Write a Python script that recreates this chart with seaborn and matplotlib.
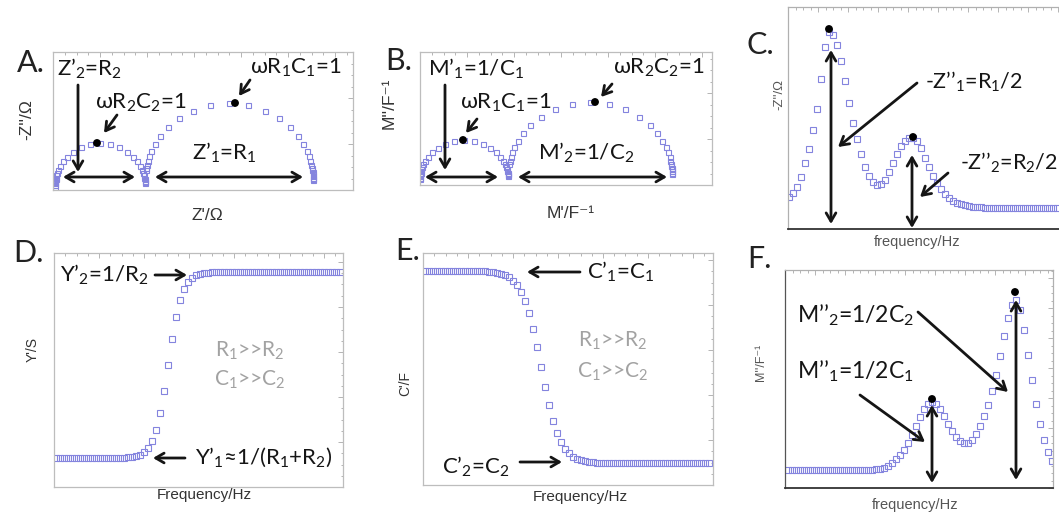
import matplotlib
matplotlib.use("Agg")
import matplotlib.pyplot as plt
from matplotlib.ticker import MultipleLocator, AutoMinorLocator
import seaborn as sns

sns.set_style("white")
plt.rcParams["font.family"] = ["Lato", "DejaVu Sans"]
plt.rcParams["mathtext.fontset"] = "custom"
plt.rcParams["mathtext.rm"] = "Lato"
plt.rcParams["mathtext.it"] = "Lato:italic"
plt.rcParams["mathtext.bf"] = "Lato:bold"

# ---------------- data (arbitrary units, no tick labels are shown) ----------------
# A: impedance complex plane, Z' vs -Z''
z_small_re = [91.9, 91.8, 91.6, 91.5, 91.1, 90.6, 89.8, 88.6, 86.7, 83.9, 79.7, 73.9, 66.4, 57.1, 47.0,
              36.9, 27.6, 20.1, 14.3, 10.1, 7.3, 5.4, 4.2, 3.4, 2.9, 2.5, 2.4, 2.2, 2.1, 1.9, 1.8]
z_small_im = [7.4, 8.3, 9.4, 10.7, 12.5, 14.7, 17.3, 20.5, 24.3, 28.6, 33.5, 38.5, 42.8, 45.9, 47.0,
              45.9, 42.8, 38.5, 33.5, 28.6, 24.3, 20.5, 17.3, 14.7, 12.5, 10.7, 9.4, 8.3, 7.4, 5.0, 3.5]
z_big_re = [260.0, 260.0, 260.0, 259.9, 259.7, 259.6, 259.3, 259.0, 258.3, 257.4, 255.9, 253.6, 250.1,
            244.9, 237.1, 226.2, 212.2, 194.9, 176.0, 157.1, 139.8, 125.8, 114.9, 107.1, 101.9, 98.4,
            96.1, 94.6, 93.7, 93.0, 92.7]
z_big_im = [9.6, 10.8, 12.4, 13.9, 16.0, 17.6, 19.6, 22.0, 25.2, 29.2, 33.8, 39.5, 46.3, 54.0, 62.9,
            71.8, 79.5, 85.0, 87.0, 85.0, 79.5, 71.8, 62.9, 54.0, 46.3, 39.5, 33.8, 29.2, 25.2, 22.0, 19.6]
z_apex_re = [44, 182]
z_apex_im = [47, 87]

# B: modulus complex plane, M' vs M''
m_small_re = [87.9, 87.8, 87.6, 87.5, 87.1, 86.6, 85.8, 84.7, 82.8, 80.1, 76.0, 70.3, 63.0, 53.9, 44.0,
              34.1, 25.0, 17.7, 12.0, 7.9, 5.2, 3.3, 2.2, 1.4, 0.9, 0.5, 0.4, 0.2, 0.1, 0.1, 0.0]
m_small_im = [9.0, 9.9, 10.9, 12.1, 13.7, 15.7, 18.1, 20.9, 24.4, 28.3, 32.8, 37.3, 41.2, 44.0, 45.0,
              44.0, 41.2, 37.3, 32.8, 28.3, 24.4, 20.9, 18.1, 15.7, 13.7, 12.1, 10.9, 9.9, 9.0, 7.5, 6.0]
m_big_re = [252.0, 252.0, 251.9, 251.8, 251.6, 251.4, 251.0, 250.4, 249.5, 248.0, 245.8, 242.3, 237.2,
            229.6, 219.0, 205.3, 188.5, 170.0, 151.5, 134.7, 121.0, 110.4, 102.8, 97.7, 94.2, 92.0,
            90.5, 89.6, 89.0]
m_big_im = [10.8, 12.3, 13.7, 15.7, 17.2, 19.1, 21.4, 24.5, 28.2, 32.6, 38.0, 44.4, 51.8, 60.2, 68.5,
            75.9, 81.1, 83.0, 81.1, 75.9, 68.5, 60.2, 51.8, 44.4, 38.0, 32.6, 28.2, 24.5, 21.4]
m_apex_re = [43, 175]
m_apex_im = [45, 83]

# C: -Z'' spectrum
zi_freq = [1, 5, 9, 13, 17, 21, 25, 29, 33, 37, 41, 45, 49, 53, 57, 61, 65, 69, 73, 77, 81, 85, 89,
           93, 97, 101, 105, 109, 113, 117, 121, 125, 129, 133, 137, 141, 145, 149, 153, 157, 161,
           165, 169, 173, 177, 181, 185, 189, 193, 197, 201, 205, 209, 213, 217, 221, 225, 229, 233,
           237, 241, 245, 249, 253, 257, 261, 265, 269]
zi_vals = [32, 36, 42, 52, 66, 80, 99, 120, 150, 182, 197, 194, 184, 168, 148, 126, 106, 90, 75, 62,
           53, 47, 44, 45, 49, 57, 66, 75, 83, 88, 91, 91, 88, 81, 71, 62, 53, 46, 40, 35, 31, 28, 26,
           25, 24, 23, 22.5, 22, 21.7, 21.5, 21.3, 21.2, 21.1, 21, 21, 21, 21, 21, 21, 21, 21, 21, 21,
           21, 21, 21, 21, 21]
zi_peak_f = [41, 125]
zi_peak_v = [200, 92]

# D: Y' spectrum
y_freq = [2, 6, 10, 14, 18, 22, 26, 30, 34, 38, 42, 46, 50, 54, 58, 62, 66, 70, 74, 78, 82, 86, 90,
          94, 98, 102, 106, 110, 114, 118, 122, 126, 130, 134, 138, 142, 146, 150, 154, 158, 162,
          166, 170, 174, 178, 182, 186, 190, 194, 198, 202, 206, 210, 214, 218, 222, 226, 230, 234,
          238, 242, 246, 250, 254, 258, 262, 266, 270, 274, 278, 282, 286]
y_vals = [29, 29, 29, 29, 29, 29, 29, 29, 29, 29, 29, 29, 29, 29, 29, 29, 29, 29.3, 29.6, 30.1, 30.9,
          32.3, 34.8, 39.1, 46.2, 57.4, 74.0, 96.2, 122.0, 147.8, 170.0, 186.6, 197.8, 204.9, 209.2,
          211.7, 213.1, 213.9, 214.4, 214.6, 214.8, 214.8, 214.8, 214.8, 214.8, 214.8, 214.8, 214.8,
          214.8, 214.8, 214.8, 214.8, 214.8, 214.8, 214.8, 214.8, 214.8, 214.8, 214.8, 214.8, 214.8,
          214.8, 214.8, 214.8, 214.8, 214.8, 214.8, 214.8, 214.8, 214.8, 214.8, 214.8]

# E: C' spectrum
c_freq = y_freq
c_vals = [214, 214, 214, 214, 214, 214, 214, 214, 214, 214, 214, 214, 214, 214, 214, 214, 213.2, 212.8,
          212.2, 211.2, 209.8, 207.6, 204.4, 199.8, 193.1, 183.9, 171.7, 156.2, 137.9, 118.0, 98.1,
          79.8, 64.3, 52.1, 42.9, 36.2, 31.6, 28.4, 26.2, 24.8, 23.8, 23.2, 22.8, 22.5, 22.3, 22.2,
          22.1, 22, 22, 22, 22, 22, 22, 22, 22, 22, 22, 22, 22, 22, 22, 22, 22, 22, 22, 22, 22, 22,
          22, 22, 22, 22]

# F: M'' spectrum
mi_freq = [3, 7, 11, 15, 19, 23, 27, 31, 35, 39, 43, 47, 51, 55, 59, 63, 67, 71, 75, 79, 83, 87, 91,
           95, 99, 103, 107, 111, 115, 119, 123, 127, 131, 135, 139, 143, 147, 151, 155, 159, 163,
           167, 171, 175, 179, 183, 187, 191, 195, 199, 203, 207, 211, 215, 219, 223, 227, 231, 235,
           239, 243, 247, 251, 255, 259, 263, 267]
mi_vals = [18, 18, 18, 18, 18, 18, 18, 18, 18, 18, 18, 18, 18, 18, 18, 18, 18, 18, 18, 18, 18, 18.3,
           18.6, 19.2, 20, 22, 25, 29, 33, 38, 45, 53, 62, 71, 79, 84, 86, 84, 79, 72, 64, 57, 51, 47,
           45, 45, 48, 54, 62, 72, 83, 97, 113, 132, 152, 170, 183, 188, 178, 158, 133, 108, 84, 64,
           48, 36, 27]
mi_peak_f = [147, 230]
mi_peak_v = [89, 196]

# ---------------- drawing ----------------
W, H = 1059, 517
fig = plt.figure(figsize=(W / 100, H / 100), dpi=100)
fig.patch.set_facecolor("white")

MARK = "#8484de"
INK = "#151515"
GREY_TXT = "#a2a2a2"
LABEL_FONT = ["Liberation Sans", "DejaVu Sans"]


def panel(l, t, r, b, xmaj=45, ymaj=45, spine="#bdbdbd"):
    ax = fig.add_axes([l / W, 1 - b / H, (r - l) / W, (b - t) / H])
    ax.set_xlim(0, r - l)
    ax.set_ylim(0, b - t)
    for s in ax.spines.values():
        s.set_color(spine)
        s.set_linewidth(0.9)
    ax.xaxis.set_major_locator(MultipleLocator(xmaj))
    ax.yaxis.set_major_locator(MultipleLocator(ymaj))
    ax.xaxis.set_minor_locator(AutoMinorLocator(4))
    ax.yaxis.set_minor_locator(AutoMinorLocator(4))
    ax.tick_params(which="both", direction="in", top=True, right=True,
                   labelbottom=False, labelleft=False, colors="#a8a8a8", width=0.6)
    ax.tick_params(which="major", length=3.5)
    ax.tick_params(which="minor", length=1.8)
    ax.set_xlabel("")
    ax.set_ylabel("")
    return ax


def squares(ax, x, y, size=4.2):
    sns.lineplot(x=x, y=y, ax=ax, estimator=None, sort=False, linestyle="", marker="s",
                 markersize=size, markerfacecolor="none", markeredgecolor=MARK,
                 markeredgewidth=0.8, color=MARK, legend=False)


def dots(ax, x, y):
    sns.scatterplot(x=x, y=y, ax=ax, color="black", s=32, edgecolor="none", zorder=6, legend=False)


def arrow(ax, x0, y0, x1, y1, both=False):
    style = "<->" if both else "->"
    ax.annotate("", xy=(x1, y1), xytext=(x0, y0),
                arrowprops=dict(arrowstyle=f"{style},head_length=0.6,head_width=0.35",
                                lw=2.0, color=INK, shrinkA=0, shrinkB=0), zorder=7)


def note(ax, x, y, s, size=15, color=INK, ha="left"):
    ax.text(x, y, s, fontsize=size, color=color, ha=ha, va="center", zorder=8, clip_on=False)


def ftext(px, py, s, size, rot=0, color="#333333", family=None, ha="center"):
    fig.text(px / W, 1 - py / H, s, fontsize=size, rotation=rot, color=color,
             ha=ha, va="center", family=family if family else plt.rcParams["font.family"])


# A
axA = panel(53, 52, 353, 190, xmaj=47, ymaj=46)
squares(axA, z_small_re, z_small_im, 3.6)
squares(axA, z_big_re, z_big_im, 3.6)
dots(axA, z_apex_re, z_apex_im)
note(axA, 4, 121, "Z’$_2$=R$_2$", size=16)
arrow(axA, 25, 105, 25, 18)
note(axA, 42, 87, "ωR$_2$C$_2$=1", size=16)
arrow(axA, 64, 75, 51, 57)
note(axA, 197, 122, "ωR$_1$C$_1$=1", size=16)
arrow(axA, 197, 110, 186, 94)
arrow(axA, 10, 13, 82, 13, both=True)
arrow(axA, 102, 13, 250, 13, both=True)
note(axA, 139, 37, "Z’$_1$=R$_1$", size=16)
ftext(17, 63, "A.", 22, ha="left", color="#222222")
ftext(207, 216, "Z'/Ω", 12.5, family=LABEL_FONT)
ftext(27, 120, "-Z''/Ω", 12.5, rot=90, family=LABEL_FONT)

# B
axB = panel(420, 52, 712, 185, xmaj=47, ymaj=46)
squares(axB, m_small_re, m_small_im, 3.6)
squares(axB, m_big_re, m_big_im, 3.6)
dots(axB, m_apex_re, m_apex_im)
note(axB, 8, 116, "M’$_1$=1/C$_1$", size=16)
arrow(axB, 25, 100, 25, 15)
note(axB, 40, 82, "ωR$_1$C$_1$=1", size=16)
arrow(axB, 57, 66, 46, 52)
note(axB, 193, 117, "ωR$_2$C$_2$=1", size=16)
arrow(axB, 192, 101, 181, 88)
arrow(axB, 5, 8, 78, 8, both=True)
arrow(axB, 98, 8, 247, 8, both=True)
note(axB, 118, 32, "M’$_2$=1/C$_2$", size=16)
ftext(385, 61, "B.", 22, ha="left", color="#222222")
ftext(571, 213, "M'/F⁻¹", 12.5, family=LABEL_FONT)
ftext(389, 103, "M''/F⁻¹", 12.5, rot=90, family=LABEL_FONT)

# C
axC = panel(788, 7, 1068, 229, xmaj=30, ymaj=30, spine="#b0b0b0")
axC.spines["bottom"].set_color("#333333")
axC.spines["bottom"].set_linewidth(1.3)
squares(axC, zi_freq, zi_vals, 4.2)
dots(axC, zi_peak_f, zi_peak_v)
arrow(axC, 43, 179, 43, 5, both=True)
arrow(axC, 124, 74, 124, 1, both=True)
note(axC, 137, 147, "-Z’’$_1$=R$_1$/2", size=15.5)
arrow(axC, 129, 146, 50, 82)
note(axC, 172, 66, "-Z’’$_2$=R$_2$/2", size=15.5)
arrow(axC, 160, 56, 132, 32)
ftext(747, 45, "C.", 22, ha="left", color="#222222")
ftext(917, 242, "frequency/Hz", 10.5, color="#555555", family=LABEL_FONT)
ftext(779, 95, "-Z''/Ω", 9.5, rot=90, color="#555555", family=LABEL_FONT)

# D
axD = panel(54, 253, 343, 487, xmaj=45, ymaj=45)
squares(axD, y_freq, y_vals, 4.4)
note(axD, 6, 212, "Y’$_2$=1/R$_2$", size=16)
arrow(axD, 101, 212, 133, 212)
note(axD, 196, 136, "R$_1$>>R$_2$", size=15, color=GREY_TXT, ha="center")
note(axD, 196, 107, "C$_1$>>C$_2$", size=15, color=GREY_TXT, ha="center")
note(axD, 141, 30, "Y’$_1$≈1/(R$_1$+R$_2$)", size=16)
arrow(axD, 131, 29, 99, 29)
ftext(13, 253, "D.", 22, ha="left", color="#222222")
ftext(204, 495, "Frequency/Hz", 11, color="#333333", family=LABEL_FONT)
ftext(33, 350, "Y'/S", 10, rot=90, color="#333333", family=LABEL_FONT)

# E
axE = panel(423, 253, 713, 485, xmaj=45, ymaj=45)
squares(axE, c_freq, c_vals, 4.4)
note(axE, 164, 213, "C’$_1$=C$_1$", size=16)
arrow(axE, 157, 213, 104, 213)
note(axE, 190, 144, "R$_1$>>R$_2$", size=15, color=GREY_TXT, ha="center")
note(axE, 190, 113, "C$_1$>>C$_2$", size=15, color=GREY_TXT, ha="center")
note(axE, 19, 18, "C’$_2$=C$_2$", size=16)
arrow(axE, 97, 23, 139, 23)
ftext(395, 251, "E.", 22, ha="left", color="#222222")
ftext(580, 497, "Frequency/Hz", 11, color="#333333", family=LABEL_FONT)
ftext(405, 383, "C'/F", 10, rot=90, color="#333333", family=LABEL_FONT)

# F
axF = panel(785, 270, 1053, 488, xmaj=30, ymaj=30, spine="#b0b0b0")
axF.spines["bottom"].set_color("#333333")
axF.spines["left"].set_color("#555555")
axF.spines["bottom"].set_linewidth(1.3)
squares(axF, mi_freq, mi_vals, 4.2)
dots(axF, mi_peak_f, mi_peak_v)
note(axF, 12, 173, "M’’$_2$=1/2C$_2$", size=16.5)
arrow(axF, 133, 176, 223, 96)
note(axF, 12, 117, "M’’$_1$=1/2C$_1$", size=16.5)
arrow(axF, 75, 93, 140, 46)
arrow(axF, 147, 83, 147, 5, both=True)
arrow(axF, 231, 188, 231, 8, both=True)
ftext(747, 259, "F.", 22, ha="left", color="#222222")
ftext(915, 505, "frequency/Hz", 10.5, color="#555555", family=LABEL_FONT)
ftext(761, 362, "M''/F⁻¹", 9, rot=90, color="#555555", family=LABEL_FONT)

fig.savefig("out.png", dpi=100, facecolor="white")
